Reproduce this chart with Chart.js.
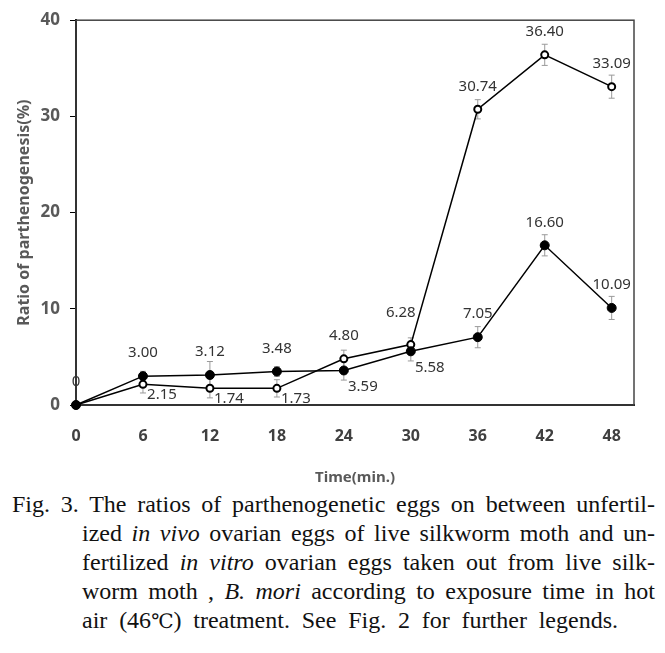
<!DOCTYPE html>
<html>
<head>
<meta charset="utf-8">
<script src="https://cdn.jsdelivr.net/npm/chart.js@4"></script>
<style>
  body { margin: 0; background: #fff; }
  #wrap { position: relative; width: 665px; height: 653px; overflow: hidden; }
  #chart { position: absolute; left: 0; top: 0; }
  #caption {
    position: absolute; left: 12px; top: 490px; width: 643px;
    font-family: "Liberation Serif", "Times New Roman", serif;
    font-size: 24px; line-height: 29px; color: #111;
  }
  #caption div { text-align: justify; text-align-last: justify; text-justify: inter-word; white-space: nowrap; }
  #caption .ind { margin-left: 70px; }
  #caption .last { width: 536px; }
  #caption .temp { display: inline-block; text-align: left; text-align-last: left; }
  #caption .deg { font-family: "DejaVu Serif", serif; font-size: 20px; }
</style>
</head>
<body>
<div id="wrap">
  <canvas id="chart" width="665" height="490"></canvas>
  <div id="caption">
    <div>Fig. 3. The ratios of parthenogenetic eggs on between unfertil-</div>
    <div class="ind">ized <i>in vivo</i> ovarian eggs of live silkworm moth and un-</div>
    <div class="ind">fertilized <i>in vitro</i> ovarian eggs taken out from live silk-</div>
    <div class="ind">worm moth , <i>B. mori</i> according to exposure time in hot</div>
    <div class="ind last">air <span class="temp">(46<span class="deg">℃</span>)</span> treatment. See Fig. 2 for further legends.</div>
  </div>
</div>
<script>
// exposure time (min.)
const times = [0, 6, 12, 18, 24, 30, 36, 42, 48];
const xTicks = [0, 6, 12, 18, 24, 30, 36, 42, 48];
const yTicks = [0, 10, 20, 30, 40];

// filled circles
const filledValues = [0, 3.00, 3.12, 3.48, 3.59, 5.58, 7.05, 16.60, 10.09];
const filledErrors = [0, 0.5, 1.4, 0.5, 1.0, 1.0, 1.1, 1.1, 1.2];

// open circles
const openValues = [0, 2.15, 1.74, 1.73, 4.80, 6.28, 30.74, 36.40, 33.09];
const openErrors = [0, 0.9, 1.0, 0.9, 0.9, 0.7, 1.0, 1.1, 1.2];

// where each value label sits relative to its point
const filledPlace = ['none', 'a', 'a', 'a', 'br2', 'br2', 'a', 'a', 'a'];
const openPlace = ['a', 'br', 'br', 'br', 'a', 'al', 'a', 'a', 'a'];
const placeOffsets = {
    a: [0, -23],
    br: [19, 10],
    br2: [19, 16],
    al: [-10, -32]
};

function fmt(v) {
    return v === 0 ? '0' : v.toFixed(2);
}

const errorBars = {
    id: 'errorBars',
    beforeDatasetsDraw(chart) {
        const ctx = chart.ctx;
        const y = chart.scales.y;
        ctx.save();
        ctx.strokeStyle = '#9a9a9a';
        ctx.lineWidth = 1;
        chart.data.datasets.forEach((ds, di) => {
            const meta = chart.getDatasetMeta(di);
            ds.errors.forEach((e, i) => {
                if (!e) return;
                const pt = meta.data[i];
                const v = ds.data[i].y;
                const top = y.getPixelForValue(v + e);
                const bot = y.getPixelForValue(v - e);
                ctx.beginPath();
                ctx.moveTo(pt.x, top); ctx.lineTo(pt.x, bot);
                ctx.moveTo(pt.x - 3, top); ctx.lineTo(pt.x + 3, top);
                ctx.moveTo(pt.x - 3, bot); ctx.lineTo(pt.x + 3, bot);
                ctx.stroke();
            });
        });
        ctx.restore();
    }
};

const frame = {
    id: 'frame',
    beforeDatasetsDraw(chart) {
        const a = chart.chartArea;
        const ctx = chart.ctx;
        ctx.save();
        ctx.strokeStyle = '#444';
        ctx.lineWidth = 1.5;
        ctx.strokeRect(a.left, a.top, a.right - a.left, a.bottom - a.top);
        ctx.restore();
    }
};

const valueLabels = {
    id: 'valueLabels',
    afterDatasetsDraw(chart) {
        const ctx = chart.ctx;
        ctx.save();
        ctx.font = '15px "Noto Sans", sans-serif';
        ctx.fillStyle = '#333';
        ctx.textAlign = 'center';
        ctx.textBaseline = 'middle';
        chart.data.datasets.forEach((ds, di) => {
            const meta = chart.getDatasetMeta(di);
            ds.place.forEach((p, i) => {
                if (p === 'none') return;
                const off = placeOffsets[p];
                const pt = meta.data[i];
                ctx.fillText(fmt(ds.data[i].y), pt.x + off[0], pt.y + off[1]);
            });
        });
        ctx.restore();
    }
};

new Chart(document.getElementById('chart'), {
    type: 'line',
    data: {
        datasets: [{
            label: 'filled',
            data: times.map((t, i) => ({ x: t, y: filledValues[i] })),
            errors: filledErrors,
            place: filledPlace,
            borderColor: '#000',
            borderWidth: 1.5,
            backgroundColor: '#000',
            pointBackgroundColor: '#000',
            pointBorderColor: '#000',
            pointRadius: 4.5,
            pointBorderWidth: 1,
            tension: 0,
            clip: false
        }, {
            label: 'open',
            data: times.map((t, i) => ({ x: t, y: openValues[i] })),
            errors: openErrors,
            place: openPlace,
            borderColor: '#000',
            borderWidth: 1.5,
            backgroundColor: '#fff',
            pointBackgroundColor: '#fff',
            pointBorderColor: '#000',
            pointRadius: 3.5,
            pointBorderWidth: 2,
            tension: 0,
            clip: false
        }]
    },
    options: {
        responsive: false,
        animation: false,
        devicePixelRatio: 1,
        layout: { padding: { top: 19, right: 31, left: 0, bottom: 0 } },
        plugins: {
            legend: { display: false },
            tooltip: { enabled: false }
        },
        scales: {
            x: {
                type: 'linear',
                min: 0,
                max: 50,
                afterBuildTicks: s => { s.ticks = xTicks.map(v => ({ value: v })); },
                afterFit: s => { s.height = 85; },
                grid: { display: false, drawTicks: false },
                border: { display: true, color: '#000', width: 2 },
                ticks: {
                    padding: 22,
                    color: '#404040',
                    font: { family: '"Noto Sans", sans-serif', size: 16, weight: 'bold' }
                },
                title: {
                    display: true,
                    text: 'Time(min.)',
                    color: '#595959',
                    padding: { top: 4, bottom: 3 },
                    font: { family: '"Noto Sans", sans-serif', size: 15, weight: 'bold' }
                }
            },
            y: {
                min: 0,
                max: 40,
                afterBuildTicks: s => { s.ticks = yTicks.map(v => ({ value: v })); },
                afterFit: s => { s.width = 76; },
                grid: { display: true, drawOnChartArea: false, drawTicks: true, tickLength: 6, color: '#000' },
                border: { display: true, color: '#000', width: 2 },
                ticks: {
                    padding: 10,
                    color: '#595959',
                    font: { family: '"Noto Sans", sans-serif', size: 17, weight: 'bold' }
                },
                title: {
                    display: true,
                    text: 'Ratio of parthenogenesis(%)',
                    color: '#595959',
                    padding: { top: 15, bottom: 4 },
                    font: { family: '"Noto Sans", sans-serif', size: 16, weight: 'bold' }
                }
            }
        }
    },
    plugins: [frame, errorBars, valueLabels]
});
</script>
</body>
</html>
